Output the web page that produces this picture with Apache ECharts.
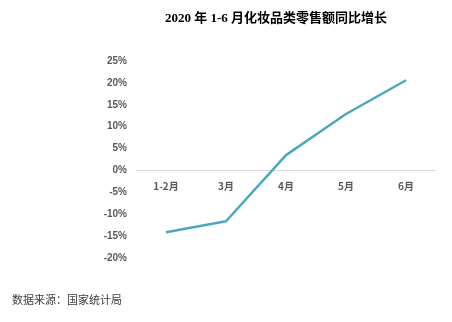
<!DOCTYPE html>
<html><head><meta charset="utf-8">
<script src="https://cdn.jsdelivr.net/npm/echarts@6/dist/echarts.min.js"></script>
<style>html,body{margin:0;padding:0;background:#fff;}#c{width:452px;height:322px;}</style>
</head><body><div id="c"></div>
<script>
const categories = ['1-2月', '3月', '4月', '5月', '6月'];
const growth = [-14.1, -11.6, 3.5, 12.9, 20.6];
const titleText = '2020 年 1-6 月化妆品类零售额同比增长';
const sourceText = '数据来源：国家统计局';

const chart = echarts.init(document.getElementById('c'), null, {renderer: 'canvas'});
chart.setOption({
  backgroundColor: '#fff',
  animation: false,
  title: [{
    text: titleText,
    left: 271, top: 7, textAlign: 'center',
    textStyle: {fontFamily: '"Liberation Serif", "Noto Sans CJK SC", serif', fontSize: 13, fontWeight: 'bold', color: '#000'}
  }, {
    text: sourceText,
    left: 7, top: 289,
    textStyle: {fontFamily: '"Noto Sans CJK SC", sans-serif', fontSize: 11, fontWeight: 'normal', color: '#404040'}
  }],
  grid: {left: 136, right: 16, top: 61, bottom: 64},
  xAxis: {
    type: 'category', data: categories, boundaryGap: true,
    offset: -88,
    axisLine: {onZero: false, lineStyle: {color: '#d9d9d9', width: 1}},
    axisTick: {show: false},
    axisLabel: {color: '#595959', fontWeight: 'bold', fontSize: 10, margin: 11, fontFamily: '"Noto Sans CJK SC", sans-serif'}
  },
  yAxis: {
    type: 'value', min: -20, max: 25, interval: 5,
    axisLine: {show: false}, axisTick: {show: false},
    splitLine: {show: false},
    axisLabel: {formatter: '{value}%', color: '#595959', fontWeight: 'bold', fontSize: 10, margin: 9, fontFamily: 'Arial, "Liberation Sans", sans-serif'}
  },
  series: [{
    type: 'line', data: growth, symbol: 'none',
    lineStyle: {color: '#4BA8BE', width: 2.5}
  }]
});
</script></body></html>
